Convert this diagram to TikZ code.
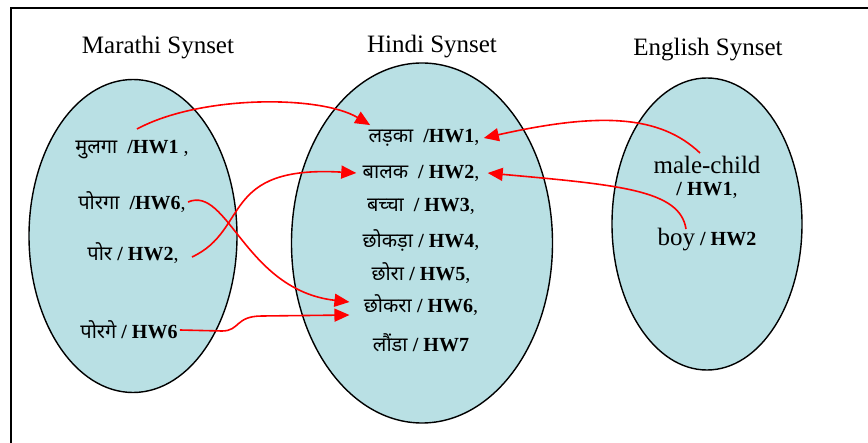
\documentclass[tikz,border=0pt]{standalone}
\usepackage{fontspec}
\setmainfont{Liberation Serif}
\newfontfamily\devfont[Script=Devanagari]{Noto Sans}
\usetikzlibrary{arrows.meta,shapes.geometric}
\definecolor{synblue}{RGB}{185,224,228}
\newcommand{\hw}[1]{\textbf{#1}}

\begin{document}
\begin{tikzpicture}[x=0.5pt, y=-0.5pt,
  synset/.style={ellipse, draw, fill=synblue, line width=0.7pt, inner sep=0pt},
  title/.style={font=\fontsize{12.5}{14}\selectfont},
  word/.style={font=\fontsize{10}{12}\selectfont, inner sep=1pt},
  link/.style={red, line width=0.8pt, -{Triangle[length=7.5pt,width=6.5pt]}}]
\useasboundingbox (0,0) rectangle (868,443);
\draw[line width=0.6pt] (868,8) -- (11,8) -- (11,443);

% the three synsets
\node[synset, minimum width=104pt, minimum height=156.5pt] (mar) at (133,236) {};
\node[synset, minimum width=130.5pt, minimum height=180pt] (hin) at (422,243) {};
\node[synset, minimum width=95pt, minimum height=146pt] (eng) at (707,224) {};
\node[title] (martitle) at (158,48) {Marathi Synset};
\node[title] (hintitle) at (432,47) {Hindi Synset};
\node[title] (engtitle) at (708,50) {English Synset};

% marathi words
\node[word] (mulga) at (132,150) {{\devfont मुलगा}~~\hw{/HW1} ,};
\node[word] (porga) at (132,202) {{\devfont पोरगा}~~\hw{/HW6},};
\node[word] (por) at (133,253) {{\devfont पोर} \hw{/ HW2},};
\node[word] (porge) at (129,330) {{\devfont पोरगे} \hw{/ HW6}};

% hindi words
\node[word] (ladka) at (424,138) {{\devfont लड़का}~~\hw{/HW1},};
\node[word] (balak) at (421,173) {{\devfont बालक}~~\hw{/ HW2},};
\node[word] (bachcha) at (421,206) {{\devfont बच्चा}~~\hw{/ HW3},};
\node[word] (chhokda) at (421,240) {{\devfont छोकड़ा} \hw{/ HW4},};
\node[word] (chhora) at (421,273) {{\devfont छोरा} \hw{/ HW5},};
\node[word] (chhokra) at (421,305) {{\devfont छोकरा} \hw{/ HW6},};
\node[word] (launda) at (421,343) {{\devfont लौंडा} \hw{/ HW7}};

% english words
\node[word, align=center] (malechild) at (707,177) {{\fontsize{12.5}{14}\selectfont male-child}\\[-1pt]\hw{/ HW1},};
\node[word] (boy) at (707,240) {{\fontsize{12.5}{14}\selectfont boy} \hw{/ HW2}};

\coordinate (mulga-t) at (137,129);
\coordinate (por-t) at (192,257);
\coordinate (malechild-t) at (700,153);
\coordinate (boy-t) at (686,229);

% links
\draw[link] (mulga-t) .. controls (200,95) and (320,95) .. ([xshift=2pt,yshift=1pt]ladka.north west);
\draw[link] (malechild-t) .. controls (660,115) and (600,112) .. ([xshift=1pt]ladka.east);
\draw[link] (boy-t) .. controls (680,190) and (620,185) .. ([xshift=3pt]balak.east);
\draw[link] (por-t) .. controls (250,230) and (220,165) .. ([xshift=-2pt]balak.west);
\draw[link] (porga.east) .. controls (228,185) and (245,290) .. ([xshift=-6pt,yshift=1.5pt]chhokra.west);
\draw[link] (porge.east) -- (222,331) .. controls (240,331) and (235,316) .. (262,316) -- ([xshift=-6pt,yshift=-5pt]chhokra.west);
\end{tikzpicture}
\end{document}
